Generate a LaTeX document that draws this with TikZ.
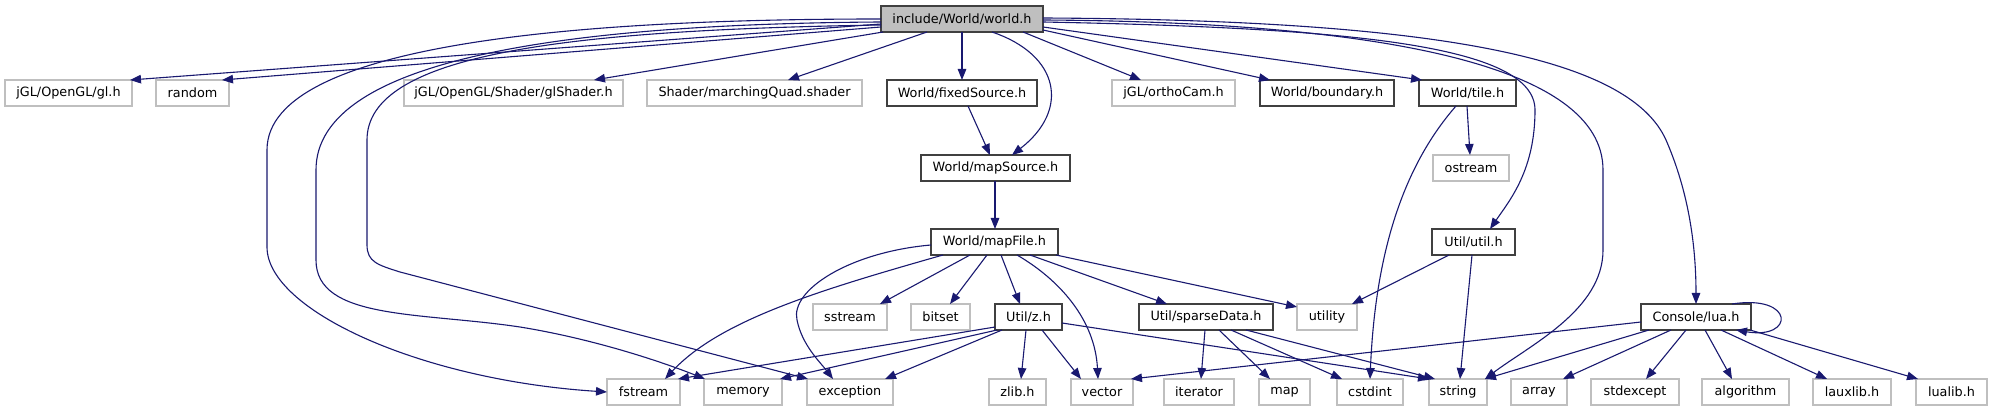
\documentclass[tikz,border=0pt]{standalone}
\usepackage{fontspec}
\setmainfont{DejaVu Sans}
\usetikzlibrary{arrows.meta}
\definecolor{edgec}{HTML}{191970}
\definecolor{greyb}{HTML}{BFBFBF}
\definecolor{darkb}{HTML}{404040}
\begin{document}
\begin{tikzpicture}[x=1pt,y=-1pt,
  box/.style={rectangle, inner sep=0pt, outer sep=0pt, minimum height=26pt, font=\fontsize{12.8}{15}\selectfont, fill=white},
  ext/.style={box, draw=greyb, line width=1.2pt},
  inc/.style={box, draw=darkb, line width=1.6pt},
  root/.style={box, draw=darkb, line width=1.6pt, fill=greyb},
  dep/.style={draw=edgec, line width=1.1pt, -{Triangle[length=11pt,width=8.5pt]}}]
\useasboundingbox (0,0) rectangle (1992,411);
\fill[white] (0,0) rectangle (1992,411);
% row 0
\node[root, minimum width=162pt] (world) at (962,19) {include/World/world.h};
% row 1
\node[ext, minimum width=127pt] (gl) at (68.5,93) {jGL/OpenGL/gl.h};
\node[ext, minimum width=73pt] (random) at (192.5,93) {random};
\node[ext, minimum width=219pt] (glshader) at (513.5,93) {jGL/OpenGL/Shader/glShader.h};
\node[ext, minimum width=215pt] (shader) at (754.5,93) {Shader/marchingQuad.shader};
\node[inc, minimum width=150pt] (fixed) at (962,93) {World/fixedSource.h};
\node[ext, minimum width=123pt] (ortho) at (1173.5,93) {jGL/orthoCam.h};
\node[inc, minimum width=134pt] (boundary) at (1327,93) {World/boundary.h};
\node[inc, minimum width=97pt] (tile) at (1467.5,93) {World/tile.h};
% row 2
\node[inc, minimum width=149pt] (mapsrc) at (995.5,168) {World/mapSource.h};
\node[ext, minimum width=76pt] (ostream) at (1471,168) {ostream};
% row 3
\node[inc, minimum width=127pt] (mapfile) at (994.5,242) {World/mapFile.h};
\node[inc, minimum width=83pt] (util) at (1473.5,242) {Util/util.h};
% row 4
\node[ext, minimum width=74pt] (sstream) at (850,317) {sstream};
\node[ext, minimum width=59pt] (bitset) at (940.5,317) {bitset};
\node[inc, minimum width=67pt] (zh) at (1028.5,317) {Util/z.h};
\node[inc, minimum width=134pt] (sparse) at (1206,317) {Util/sparseData.h};
\node[ext, minimum width=60pt] (utility) at (1327,317) {utility};
\node[inc, minimum width=110pt] (lua) at (1696,317) {Console/lua.h};
% row 5
\node[ext, minimum width=73pt] (fstream) at (643.5,392) {fstream};
\node[ext, minimum width=78pt] (memory) at (743,392) {memory};
\node[ext, minimum width=86pt] (exception) at (850,392) {exception};
\node[ext, minimum width=57pt] (zlib) at (1017.5,392) {zlib.h};
\node[ext, minimum width=62pt] (vector) at (1102,392) {vector};
\node[ext, minimum width=70pt] (iterator) at (1199,392) {iterator};
\node[ext, minimum width=51pt] (map) at (1284.5,392) {map};
\node[ext, minimum width=66pt] (cstdint) at (1370,392) {cstdint};
\node[ext, minimum width=58pt] (string) at (1458,392) {string};
\node[ext, minimum width=56pt] (array) at (1539,392) {array};
\node[ext, minimum width=88pt] (stdexcept) at (1635,392) {stdexcept};
\node[ext, minimum width=87pt] (algorithm) at (1745.5,392) {algorithm};
\node[ext, minimum width=78pt] (lauxlib) at (1852,392) {lauxlib.h};
\node[ext, minimum width=71pt] (lualib) at (1951.5,392) {lualib.h};
% edges from world.h
\draw[dep] ([yshift=-18pt]world.north west) -- ([xshift=125pt]gl.north west);
\draw[dep] ([yshift=-21pt]world.north west) -- ([xshift=66pt]random.north west);
\draw[dep] ([xshift=2pt]world.south west) -- ([xshift=190pt]glshader.north west);
\draw[dep] ([xshift=46pt]world.south west) -- ([xshift=141pt]shader.north west);
\draw[dep] ([xshift=81pt]world.south west) -- ([xshift=75pt]fixed.north west);
\draw[dep] ([xshift=111pt]world.south west) .. controls (1060,55) and (1070,110) .. ([xshift=91pt]mapsrc.north west);
\draw[dep] ([xshift=142pt]world.south west) -- ([xshift=29pt]ortho.north west);
\draw[dep] ([yshift=-24pt]world.north east) -- ([xshift=10pt]boundary.north west);
\draw[dep] ([yshift=-21pt]world.north east) -- ([xshift=3pt]tile.north west);
\draw[dep] ([yshift=-16pt]world.north east) .. controls (1350,28) and (1535,45) .. (1535,110) .. controls (1535,170) and (1510,200) .. ([xshift=58pt]util.north west);
\draw[dep] ([yshift=-14pt]world.north east) .. controls (1380,22) and (1603,65) .. (1603,170) -- (1603,250) .. controls (1603,310) and (1530,345) .. ([xshift=56pt]string.north west);
\draw[dep] ([yshift=-12pt]world.north east) .. controls (1450,20) and (1630,60) .. (1666,140) .. controls (1690,195) and (1696,250) .. ([xshift=55pt]lua.north west);
\draw[dep] ([yshift=-13pt]world.north west) .. controls (600,19) and (267,40) .. (267,150) -- (267,247) .. controls (267,310) and (420,380) .. (fstream.west);
\draw[dep] ([yshift=-16pt]world.north west) .. controls (560,24) and (316,60) .. (316,170) -- (316,260) .. controls (316,320) and (420,312) .. (520,327) .. controls (600,340) and (670,365) .. ([xshift=1pt]memory.north west);
\draw[dep] ([yshift=-19pt]world.north west) .. controls (560,30) and (367,55) .. (367,140) -- (367,245) .. controls (367,262) and (378,265) .. (400,272) -- ([xshift=1pt]exception.north west);
% fixedSource, mapSource
\draw[dep] ([xshift=81pt]fixed.south west) -- ([xshift=69pt]mapsrc.north west);
\draw[dep] ([xshift=74pt]mapsrc.south west) -- ([xshift=64pt]mapfile.north west);
% mapFile
\draw[dep] ([xshift=12pt]mapfile.south west) .. controls (820,290) and (720,320) .. ([xshift=58pt]fstream.north west);
\draw[dep] ([yshift=-16pt]mapfile.north west) .. controls (850,252) and (790,290) .. (797,320) .. controls (802,345) and (820,362) .. ([xshift=26pt]exception.north west);
\draw[dep] ([xshift=39pt]mapfile.south west) -- ([xshift=67pt]sstream.north west);
\draw[dep] ([xshift=56pt]mapfile.south west) -- ([xshift=39pt]bitset.north west);
\draw[dep] ([xshift=70pt]mapfile.south west) -- ([xshift=25pt]zh.north west);
\draw[dep] ([xshift=86pt]mapfile.south west) .. controls (1060,280) and (1095,320) .. ([xshift=27pt]vector.north west);
\draw[dep] ([xshift=99pt]mapfile.south west) -- ([xshift=28pt]sparse.north west);
\draw[dep] ([xshift=125pt]mapfile.south west) -- ([yshift=-3pt]utility.north west);
% Util/z.h
\draw[dep] ([yshift=-23pt]zh.north west) -- ([xshift=-2pt]fstream.north east);
\draw[dep] ([xshift=2pt]zh.south west) -- ([xshift=-2pt]memory.north east);
\draw[dep] ([xshift=7pt]zh.south west) -- ([xshift=-8pt]exception.north east);
\draw[dep] ([xshift=31pt]zh.south west) -- ([xshift=32pt]zlib.north west);
\draw[dep] ([xshift=47pt]zh.south west) -- ([xshift=10pt]vector.north west);
\draw[dep] ([yshift=-19pt]zh.north east) -- (string.north west);
% Util/sparseData.h
\draw[dep] ([xshift=66pt]sparse.south west) -- ([xshift=37pt]iterator.north west);
\draw[dep] ([xshift=80pt]sparse.south west) -- ([xshift=11pt]map.north west);
\draw[dep] ([xshift=92pt]sparse.south west) -- ([xshift=5pt]cstdint.north west);
\draw[dep] ([xshift=107pt]sparse.south west) -- ([xshift=6pt]string.north west);
% Util/util.h
\draw[dep] ([xshift=17pt]util.south west) -- ([xshift=-5pt]utility.north east);
\draw[dep] ([xshift=40pt]util.south west) -- ([xshift=31pt]string.north west);
% World/tile.h
\draw[dep] ([xshift=48pt]tile.south west) -- ([xshift=37pt]ostream.north west);
\draw[dep] ([xshift=37pt]tile.south west) .. controls (1400,170) and (1375,260) .. ([xshift=33pt]cstdint.north west);
% Console/lua.h
\draw[dep] ([xshift=91pt]lua.north west) .. controls (1795,294) and (1795,340) .. ([xshift=95pt]lua.south west);
\draw[dep] ([yshift=-18pt]lua.north west) -- ([xshift=-2pt]vector.north east);
\draw[dep] ([xshift=8pt]lua.south west) -- ([xshift=-2pt]string.north east);
\draw[dep] ([xshift=30pt]lua.south west) -- ([xshift=52pt]array.north west);
\draw[dep] ([xshift=45pt]lua.south west) -- ([xshift=55pt]stdexcept.north west);
\draw[dep] ([xshift=64pt]lua.south west) -- ([xshift=30pt]algorithm.north west);
\draw[dep] ([xshift=80pt]lua.south west) -- ([xshift=14pt]lauxlib.north west);
\draw[dep] ([xshift=109pt]lua.south west) -- ([xshift=2pt]lualib.north west);
\end{tikzpicture}
\end{document}
